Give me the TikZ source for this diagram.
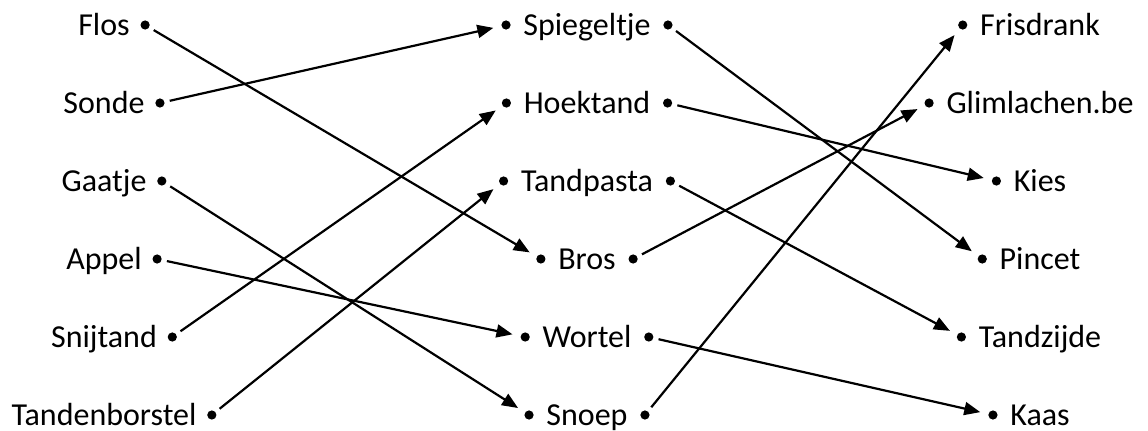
\documentclass[tikz,border=0pt]{standalone}
\usepackage{fontspec}
\setmainfont{Carlito}
\usetikzlibrary{arrows.meta,positioning}
\begin{document}
\begin{tikzpicture}[x=.5pt,y=-.5pt,
	word/.style={inner sep=0pt,text height=10.3pt,text depth=0pt,font=\fontsize{16}{19}\selectfont},
	dot/.style={circle,fill,inner sep=0pt,minimum size=4.6pt},
	pijl/.style={-{Triangle[length=8pt,width=6.5pt]},line width=1.1pt,shorten <=2.5pt,shorten >=4pt}]
	\useasboundingbox(0,0)rectangle(1148,430);
	\foreach \n/\t [count=\i from 0] in {flos/Flos,sonde/Sonde,gaatje/Gaatje,appel/Appel,snijtand/Snijtand,borstel/Tandenborstel}{
		\node[word](\n)at(104,25+78*\i){\t};
		\node[dot,right=5pt of \n](\n R){};
	}
	\foreach \n/\t [count=\i from 0] in {spiegel/Spiegeltje,hoek/Hoektand,pasta/Tandpasta,bros/Bros,wortel/Wortel,snoep/Snoep}{
		\node[word](\n)at(587,25+78*\i){\t};
		\node[dot,left=6pt of \n](\n L){};
		\node[dot,right=6pt of \n](\n R){};
	}
	\foreach \n/\t [count=\i from 0] in {fris/Frisdrank,glim/Glimlachen.be,kies/Kies,pincet/Pincet,zijde/Tandzijde,kaas/Kaas}{
		\node[word](\n)at(1040,25+78*\i){\t};
		\node[dot,left=6pt of \n](\n L){};
	}
	\foreach \a/\b in {flos/bros,sonde/spiegel,gaatje/snoep,appel/wortel,snijtand/hoek,borstel/pasta}{
		\draw[pijl](\a R)--(\b L);
	}
	\foreach \a/\b in {spiegel/pincet,hoek/kies,pasta/zijde,bros/glim,wortel/kaas,snoep/fris}{
		\draw[pijl](\a R)--(\b L);
	}
\end{tikzpicture}
\end{document}
